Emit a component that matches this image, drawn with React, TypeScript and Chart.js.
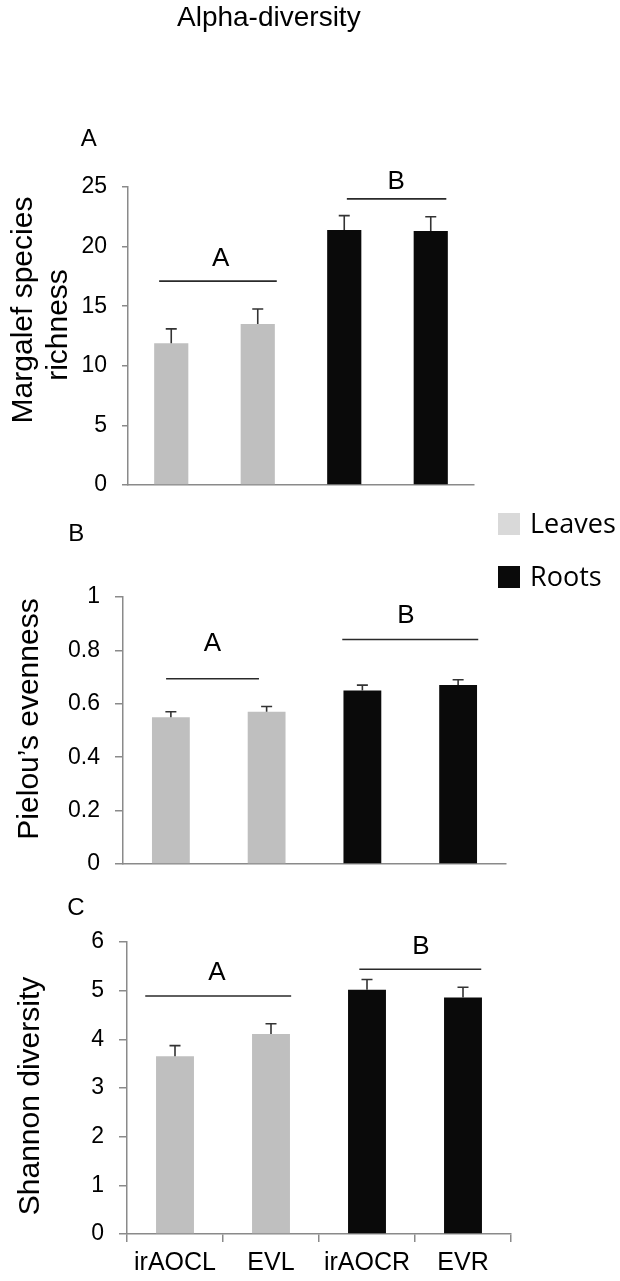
import React, { useEffect, useRef } from 'react';
import { Chart, registerables } from 'chart.js';

Chart.register(...registerables);

// ---------- data ----------
const categories = ['irAOCL', 'EVL', 'irAOCR', 'EVR'];
const seriesNames = ['Leaves', 'Roots'];

const richnessLeaves = [11.9, 13.5, null, null];
const richnessRoots = [null, null, 21.4, 21.3];
const richnessErr = [1.2, 1.27, 1.2, 1.2];
const richnessTicks = [0, 5, 10, 15, 20, 25];

const evennessLeaves = [0.55, 0.57, null, null];
const evennessRoots = [null, null, 0.65, 0.67];
const evennessErr = [0.02, 0.02, 0.02, 0.02];
const evennessTicks = [0, 0.2, 0.4, 0.6, 0.8, 1];

const shannonLeaves = [3.65, 4.11, null, null];
const shannonRoots = [null, null, 5.02, 4.86];
const shannonErr = [0.22, 0.21, 0.21, 0.21];
const shannonTicks = [0, 1, 2, 3, 4, 5, 6];

// significance groups (category index span, value of line, letter)
const richnessGroups = [
  { label: 'A', from: -0.14, to: 1.22, y: 17.1, lx: 0.57, ly: 18.4 },
  { label: 'B', from: 2.03, to: 3.18, y: 24.0, lx: 2.6, ly: 24.8 },
];
const evennessGroups = [
  { label: 'A', from: -0.05, to: 0.92, y: 0.694, lx: 0.433, ly: 0.796 },
  { label: 'B', from: 1.79, to: 3.21, y: 0.841, lx: 2.456, ly: 0.9025 },
];
const shannonGroups = [
  { label: 'A', from: -0.31, to: 1.21, y: 4.89, lx: 0.4375, ly: 5.21 },
  { label: 'B', from: 1.92, to: 3.19, y: 5.44, lx: 2.5625, ly: 5.76 },
];

// ---------- styles ----------
const FONT = '"Liberation Sans", Arial, sans-serif';
const AXIS = '#8a8a8a';
const LEAF = '#bfbfbf';
const ROOT = '#0a0a0a';
const LINE = '#2a2a2a';

function errorBars(errs: number[]) {
  return {
    id: 'errorBars',
    afterDatasetsDraw(chart: any) {
      const { ctx } = chart;
      const y = chart.scales.y;
      ctx.save();
      ctx.strokeStyle = '#333';
      ctx.lineWidth = 1.6;
      chart.data.datasets.forEach((ds: any, di: number) => {
        const meta = chart.getDatasetMeta(di);
        meta.data.forEach((el: any, i: number) => {
          const v = ds.data[i];
          if (v == null) return;
          const top = y.getPixelForValue(v + errs[i]);
          ctx.beginPath();
          ctx.moveTo(el.x, el.y);
          ctx.lineTo(el.x, top);
          ctx.moveTo(el.x - 5.5, top);
          ctx.lineTo(el.x + 5.5, top);
          ctx.stroke();
        });
      });
      ctx.restore();
    },
  };
}

function annotations(cfg: any) {
  return {
    id: 'annotations',
    afterDraw(chart: any) {
      const { ctx } = chart;
      const x = chart.scales.x;
      const y = chart.scales.y;
      ctx.save();
      cfg.groups.forEach((g: any) => {
        const py = y.getPixelForValue(g.y);
        ctx.strokeStyle = LINE;
        ctx.lineWidth = 1.6;
        ctx.beginPath();
        ctx.moveTo(x.getPixelForValue(g.from), py);
        ctx.lineTo(x.getPixelForValue(g.to), py);
        ctx.stroke();
        ctx.fillStyle = '#000';
        ctx.font = `26px ${FONT}`;
        ctx.textAlign = 'center';
        ctx.textBaseline = 'alphabetic';
        ctx.fillText(g.label, x.getPixelForValue(g.lx), y.getPixelForValue(g.ly));
      });
      ctx.fillStyle = '#000';
      ctx.font = `30px ${FONT}`;
      ctx.textAlign = 'center';
      ctx.textBaseline = 'alphabetic';
      cfg.titles.forEach((t: any) => {
        ctx.save();
        ctx.translate(t.x, t.y);
        ctx.rotate(-Math.PI / 2);
        ctx.fillText(t.text, 0, 0);
        ctx.restore();
      });
      ctx.font = `24px ${FONT}`;
      ctx.textAlign = 'left';
      ctx.fillText(cfg.panel.text, cfg.panel.x, cfg.panel.y);
      if (cfg.header) {
        ctx.font = `28px ${FONT}`;
        ctx.fillText(cfg.header.text, cfg.header.x, cfg.header.y);
      }
      if (cfg.legend) {
        ctx.font = `27px "Open Sans", sans-serif`;
        ctx.textBaseline = 'middle';
        cfg.legend.forEach((l: any, i: number) => {
          ctx.fillStyle = l.color;
          ctx.fillRect(l.x, l.y, 22, 22);
          ctx.fillStyle = '#000';
          ctx.fillText(chart.data.datasets[i].label, l.x + 32, l.y + 12);
        });
      }
      ctx.restore();
    },
  };
}

function makeChart(canvas: HTMLCanvasElement, cfg: any) {
  return new Chart(canvas, {
    type: 'bar',
    data: {
      labels: categories,
      datasets: [
        { label: seriesNames[0], data: cfg.leaves, backgroundColor: LEAF },
        { label: seriesNames[1], data: cfg.roots, backgroundColor: ROOT },
      ],
    },
    options: {
      responsive: false,
      animation: false,
      layout: { padding: cfg.padding },
      datasets: { bar: { barPercentage: 0.395, categoryPercentage: 1 } },
      plugins: { legend: { display: false }, tooltip: { enabled: false }, title: { display: false } },
      scales: {
        x: {
          stacked: true,
          offset: true,
          grid: {
            display: cfg.showX,
            drawOnChartArea: false,
            drawTicks: true,
            tickLength: 8,
            color: AXIS,
            lineWidth: 1.5,
          },
          border: { display: true, color: AXIS, width: 1.5 },
          ticks: {
            display: cfg.showX,
            color: '#000',
            font: { family: FONT, size: 25 },
            padding: 6,
            maxRotation: 0,
            autoSkip: false,
          },
          afterFit: (s: any) => {
            s.height = cfg.xHeight;
          },
        },
        y: {
          stacked: true,
          min: 0,
          max: cfg.ticks[cfg.ticks.length - 1],
          afterBuildTicks: (s: any) => {
            s.ticks = cfg.ticks.map((v: number) => ({ value: v }));
          },
          grid: {
            drawOnChartArea: false,
            drawTicks: true,
            tickLength: cfg.tickLength,
            color: AXIS,
            lineWidth: 1.5,
          },
          border: { display: true, color: AXIS, width: 1.5 },
          ticks: {
            color: '#000',
            font: { family: FONT, size: 23 },
            padding: 15,
            callback: (v: any) => String(+Number(v).toFixed(2)),
          },
          afterFit: (s: any) => {
            s.width = cfg.yWidth;
            s.paddingTop = 0;
            s.paddingBottom = 0;
          },
        },
      },
    } as any,
    plugins: [errorBars(cfg.err), annotations(cfg)],
  });
}

const cfgA = {
  leaves: richnessLeaves,
  roots: richnessRoots,
  err: richnessErr,
  ticks: richnessTicks,
  groups: richnessGroups,
  padding: { top: 187, right: 146, bottom: 0, left: 0 },
  yWidth: 128,
  xHeight: 15,
  showX: false,
  tickLength: 6,
  titles: [
    { text: 'Margalef species', x: 31.7, y: 310 },
    { text: 'richness', x: 66.7, y: 325 },
  ],
  panel: { text: 'A', x: 80.7, y: 146 },
  header: { text: 'Alpha-diversity', x: 177, y: 26 },
};

const cfgB = {
  leaves: evennessLeaves,
  roots: evennessRoots,
  err: evennessErr,
  ticks: evennessTicks,
  groups: evennessGroups,
  padding: { top: 97, right: 114, bottom: 0, left: 0 },
  yWidth: 123,
  xHeight: 16,
  showX: false,
  tickLength: 8,
  titles: [{ text: 'Pielou’s evenness', x: 38.3, y: 219 }],
  panel: { text: 'B', x: 68.3, y: 41 },
  legend: [
    { color: '#d9d9d9', x: 498, y: 13 },
    { color: ROOT, x: 498, y: 66 },
  ],
};

const cfgC = {
  leaves: shannonLeaves,
  roots: shannonRoots,
  err: shannonErr,
  ticks: shannonTicks,
  groups: shannonGroups,
  padding: { top: 62, right: 109, bottom: 0, left: 0 },
  yWidth: 127,
  xHeight: 47,
  showX: true,
  tickLength: 8,
  titles: [{ text: 'Shannon diversity', x: 38.5, y: 216 }],
  panel: { text: 'C', x: 67.3, y: 35 },
};

export default function App() {
  const refA = useRef<HTMLCanvasElement>(null);
  const refB = useRef<HTMLCanvasElement>(null);
  const refC = useRef<HTMLCanvasElement>(null);

  useEffect(() => {
    const charts = [
      makeChart(refA.current as HTMLCanvasElement, cfgA),
      makeChart(refB.current as HTMLCanvasElement, cfgB),
      makeChart(refC.current as HTMLCanvasElement, cfgC),
    ];
    return () => charts.forEach((c) => c.destroy());
  }, []);

  return (
    <div style={{ position: 'absolute', left: 0, top: 0, width: 620, height: 1281, background: '#fff' }}>
      <canvas ref={refA} width={620} height={500} style={{ position: 'absolute', left: 0, top: 0, width: 620, height: 500 }} />
      <canvas ref={refB} width={620} height={380} style={{ position: 'absolute', left: 0, top: 500, width: 620, height: 380 }} />
      <canvas ref={refC} width={620} height={401} style={{ position: 'absolute', left: 0, top: 880, width: 620, height: 401 }} />
    </div>
  );
}
